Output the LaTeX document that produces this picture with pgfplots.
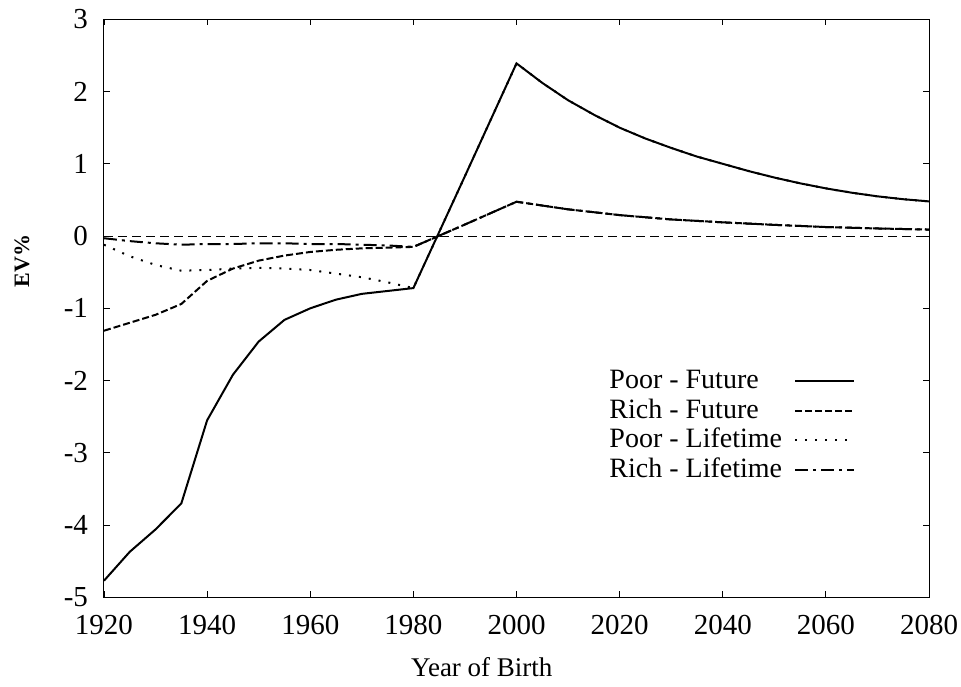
\documentclass[border=0pt]{standalone}
\usepackage{pgfplots}
\pgfplotsset{compat=1.18}
\usepackage{fontspec}
\setmainfont{Liberation Serif}
\begin{document}
\begin{tikzpicture}
\useasboundingbox (-52pt,-44.35pt) rectangle (428.5pt,298.65pt);
\begin{axis}[
  at={(0pt,0pt)}, anchor=south west,
  scale only axis, width=412.5pt, height=289pt,
  xmin=1920, xmax=2080, ymin=-5, ymax=3,
  xtick={1920,1940,...,2080}, ytick={-5,-4,...,3},
  /pgf/number format/assume math mode=true,
  /pgf/number format/1000 sep={},
  tick label style={font=\fontsize{14.5}{16}\selectfont},
  xticklabel style={yshift=-5.5pt},
  yticklabel style={xshift=-4.5pt},
  tick align=inside, major tick length=3pt,
  every tick/.style={black, line width=0.4pt},
  axis line style={line width=0.5pt},
  xlabel={Year of Birth},
  xlabel style={font=\fontsize{13.5}{16}\selectfont, at={(axis description cs:0.458,0)}, anchor=center, yshift=-34.85pt},
  ylabel={\textbf{EV\%}},
  ylabel style={font=\fontsize{11}{13}\selectfont, at={(axis description cs:-0.0994,0.582)}, anchor=center},
  legend plot pos=right,
  legend cell align=left,
  legend image code/.code={\draw[#1] (0pt,0pt) -- (29.5pt,0pt);},
  legend style={draw=none, fill=none, font=\fontsize{14}{16}\selectfont,
    at={(rel axis cs:0.611,0.398)}, anchor=north west,
    inner sep=0pt, row sep=1.2pt, column sep=5.5pt,
    nodes={inner sep=0.5pt, text height=10pt, text depth=2.6pt}},
]
\addplot[forget plot, black, line width=0.4pt, dash pattern=on 4.5pt off 2.5pt] coordinates {(1920,0) (2080,0)};
\addplot[black, line width=1pt] coordinates {
(1920,-4.77) (1925,-4.37) (1930,-4.06) (1935,-3.70) (1940,-2.55) (1945,-1.92)
(1950,-1.46) (1955,-1.16) (1960,-1.00) (1965,-0.88) (1970,-0.80) (1975,-0.76)
(1980,-0.72) (1990,0.83) (2000,2.39) (2005,2.12) (2010,1.88) (2015,1.68)
(2020,1.50) (2025,1.35) (2030,1.22) (2035,1.10) (2040,1.00) (2045,0.90)
(2050,0.81) (2055,0.73) (2060,0.66) (2065,0.60) (2070,0.55) (2075,0.51) (2080,0.48)};
\addlegendentry{Poor - Future}
\addplot[black, line width=1pt, dash pattern=on 3.5pt off 1.5pt] coordinates {
(1920,-1.31) (1925,-1.20) (1930,-1.09) (1935,-0.94) (1940,-0.62) (1945,-0.45)
(1950,-0.34) (1955,-0.27) (1960,-0.22) (1965,-0.19) (1970,-0.17) (1975,-0.16)
(1980,-0.15) (1990,0.16) (2000,0.475) (2010,0.37) (2020,0.29) (2030,0.23)
(2040,0.19) (2050,0.155) (2060,0.125) (2070,0.105) (2080,0.09)};
\addlegendentry{Rich - Future}
\addplot[black, line width=1pt, dash pattern=on 1pt off 4pt] coordinates {
(1920,-0.12) (1925,-0.28) (1930,-0.40) (1935,-0.48) (1940,-0.47) (1945,-0.45)
(1950,-0.44) (1955,-0.45) (1960,-0.47) (1965,-0.52) (1970,-0.57) (1975,-0.64)
(1980,-0.72) (1990,0.83) (2000,2.39) (2005,2.12) (2010,1.88) (2015,1.68)
(2020,1.50) (2025,1.35) (2030,1.22) (2035,1.10) (2040,1.00) (2045,0.90)
(2050,0.81) (2055,0.73) (2060,0.66) (2065,0.60) (2070,0.55) (2075,0.51) (2080,0.48)};
\addlegendentry{Poor - Lifetime}
\addplot[black, line width=1pt, dash pattern=on 6.5pt off 2.5pt on 1.5pt off 2.5pt] coordinates {
(1920,-0.03) (1925,-0.07) (1930,-0.10) (1935,-0.12) (1940,-0.11) (1945,-0.11)
(1950,-0.10) (1955,-0.10) (1960,-0.11) (1965,-0.11) (1970,-0.12) (1975,-0.13)
(1980,-0.15) (1990,0.16) (2000,0.475) (2010,0.37) (2020,0.29) (2030,0.23)
(2040,0.19) (2050,0.155) (2060,0.125) (2070,0.105) (2080,0.09)};
\addlegendentry{Rich - Lifetime}
\end{axis}
\end{tikzpicture}
\end{document}
